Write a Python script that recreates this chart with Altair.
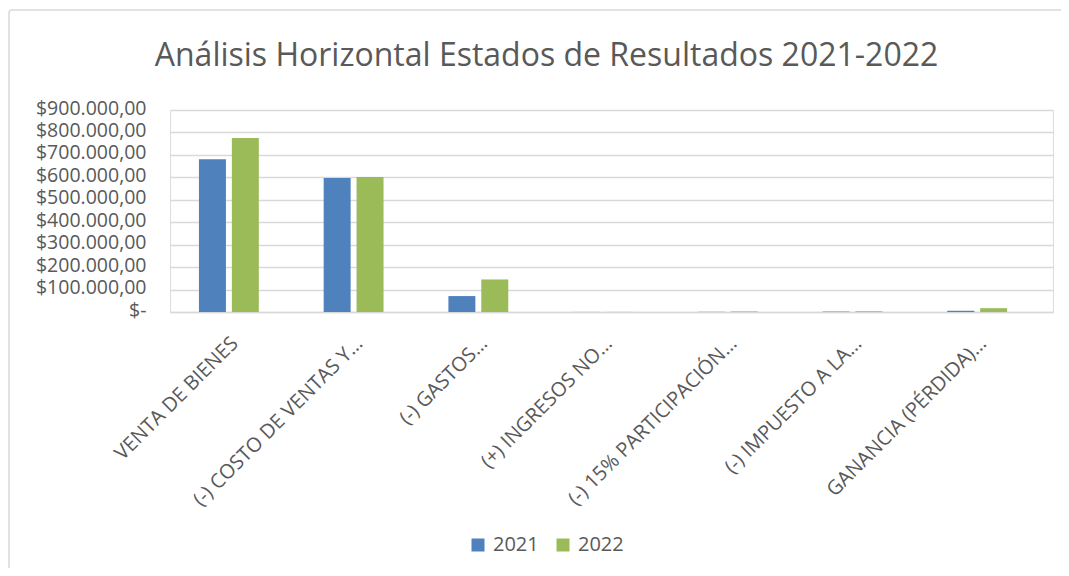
import altair as alt
import pandas as pd

categories = [
    "VENTA DE BIENES",
    "(-) COSTO DE VENTAS Y…",
    "(-) GASTOS…",
    "(+) INGRESOS NO…",
    "(-) 15% PARTICIPACIÓN…",
    "(-) IMPUESTO A LA…",
    "GANANCIA (PÉRDIDA)…",
]
values_2021 = [681000, 597000, 71000, 300, 800, 1800, 5500]
values_2022 = [775000, 601000, 145000, 400, 2500, 3200, 17000]
years = ["2021", "2022"]
colors = ["#4F81BD", "#9BBB59"]
y_ticks = [0, 100000, 200000, 300000, 400000, 500000, 600000, 700000, 800000, 900000]

rows = []
for c, a, b in zip(categories, values_2021, values_2022):
    rows.append({"cat": c, "year": years[0], "value": a})
    rows.append({"cat": c, "year": years[1], "value": b})
df = pd.DataFrame(rows)

FONT = "Open Sans"
GREY = "#595959"

bars = alt.Chart(df).mark_bar().encode(
    x=alt.X(
        "cat:N",
        sort=categories,
        title=None,
        scale=alt.Scale(paddingInner=0.52, paddingOuter=0.3, align=0.387),
        axis=alt.Axis(
            labelAngle=-45,
            labelAlign="right",
            labelBaseline="middle",
            labelPadding=28,
            labelOffset=6,
            labelFontSize=20,
            labelFont=FONT,
            labelColor=GREY,
            labelLimit=400,
            ticks=False,
            domainColor="#D9D9D9",
            domainWidth=1.5,
            grid=False,
        ),
    ),
    xOffset=alt.XOffset("year:N", scale=alt.Scale(paddingInner=0.18, paddingOuter=0)),
    y=alt.Y(
        "value:Q",
        title=None,
        scale=alt.Scale(domain=[0, 900000], nice=False),
        axis=alt.Axis(
            values=y_ticks,
            labelExpr="datum.value == 0 ? '$-\u00a0\u00a0' : '$' + format(datum.value / 1000, '.0f') + '.000,00'",
            labelFontSize=19.5,
            labelFont=FONT,
            labelColor=GREY,
            labelPadding=24,
            labelOffset=-2,
            ticks=False,
            domain=False,
            gridColor="#D9D9D9",
            gridWidth=1.5,
        ),
    ),
    color=alt.Color(
        "year:N",
        scale=alt.Scale(domain=years, range=colors),
        legend=alt.Legend(
            title=None,
            orient="none",
            direction="horizontal",
            legendX=298,
            legendY=425,
            symbolType="square",
            symbolSize=169,
            symbolStrokeWidth=0,
            symbolOpacity=1,
            labelFontSize=20,
            labelFont=FONT,
            labelColor=GREY,
            labelOffset=5,
            columnPadding=14,
        ),
    ),
)

border = alt.Chart(alt.Data(values=[{"a": 1}])).mark_rect(
    filled=False, stroke="#D9D9D9", strokeWidth=1.5, cornerRadius=3
).encode(
    x=alt.value(-161),
    x2=alt.value(1000),
    y=alt.value(-100),
    y2=alt.value(600),
)

chart = alt.layer(border, bars).properties(
    width=883,
    height=202,
    autosize=alt.AutoSizeParams(type="none"),
    padding={"left": 162, "top": 102, "right": 8, "bottom": 256},
    title=alt.TitleParams(
        "Análisis Horizontal Estados de Resultados 2021-2022",
        font=FONT,
        fontSize=32,
        fontWeight="normal",
        color=GREY,
        anchor="middle",
        dx=-65,
        dy=64,
        offset=0,
    ),
).configure_view(stroke=None).configure(background="white")

chart.save("out.html", embed_options={"renderer": "svg", "actions": False})
